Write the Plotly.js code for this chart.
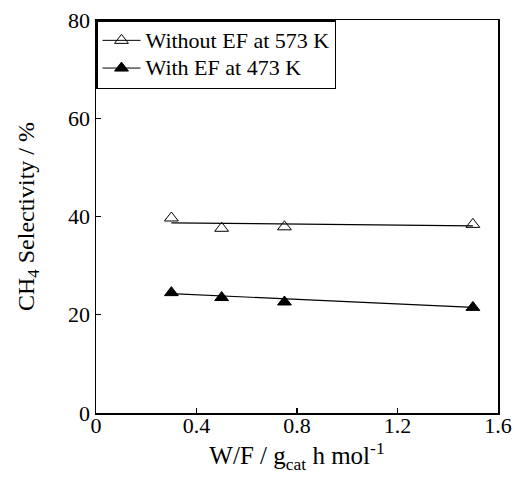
<!DOCTYPE html>
<html>
<head>
<meta charset="utf-8">
<script src="https://cdn.plot.ly/plotly-3.0.1.min.js"></script>
<style>html,body{margin:0;padding:0;background:#fff;}#chart{width:515px;height:484px;}</style>
</head>
<body>
<div id="chart"></div>
<script>
const wf = [0.3, 0.5, 0.75, 1.5];
const withoutEF = [39.7, 37.6, 37.9, 38.4];
const withEF = [24.5, 23.5, 22.6, 21.5];
const fitX = [0.3, 1.5];
const fitWithout = [38.7, 38.1];
const fitWith = [24.3, 21.5];
const seriesNames = ['Without EF at 573 K', 'With EF at 473 K'];
const xTicks = [0, 0.4, 0.8, 1.2, 1.6];
const xTickText = ['0', '0.4', '0.8', '1.2', '1.6'];
const yTicks = [0, 20, 40, 60, 80];

const FONT = 'Liberation Serif';
const openMarker = {symbol: 'triangle-up-open', size: 12, color: '#000', line: {width: 1, color: '#000'}};
const fillMarker = {symbol: 'triangle-up', size: 12, color: '#000', line: {width: 1, color: '#000'}};
const legendName = s => '<span style="font-size:22px">' + s + '</span>';

const traces = [
  {x: fitX, y: fitWithout, mode: 'lines', line: {color: '#000', width: 1.2}, showlegend: false, hoverinfo: 'skip'},
  {x: fitX, y: fitWith, mode: 'lines', line: {color: '#000', width: 1.2}, showlegend: false, hoverinfo: 'skip'},
  {x: wf, y: withoutEF, mode: 'markers', marker: openMarker, showlegend: false},
  {x: wf, y: withEF, mode: 'markers', marker: fillMarker, showlegend: false},
  {x: [null], y: [null], mode: 'lines+markers', name: legendName(seriesNames[0]), marker: openMarker, line: {color: '#000', width: 1}},
  {x: [null], y: [null], mode: 'lines+markers', name: legendName(seriesNames[1]), marker: fillMarker, line: {color: '#000', width: 1}}
];

const layout = {
  width: 515, height: 484,
  margin: {l: 96, r: 17, t: 20, b: 71},
  paper_bgcolor: '#fff', plot_bgcolor: '#fff',
  font: {family: FONT, color: '#000', size: 22},
  showlegend: true,
  legend: {x: 0, y: 1, xanchor: 'left', yanchor: 'top', bordercolor: '#000', borderwidth: 1.5,
           bgcolor: '#fff', font: {family: FONT, size: 19, color: '#000'}, tracegroupgap: 0, itemwidth: 38},
  xaxis: {
    range: [0, 1.6], tickvals: xTicks, ticktext: xTickText,
    ticks: 'inside', ticklen: 5, tickcolor: '#000', tickwidth: 1.2, showgrid: false, zeroline: false,
    showline: true, linecolor: '#000', linewidth: 1.5, mirror: true, ticklabelstandoff: -8,
    tickfont: {family: FONT, size: 22, color: '#000'},
    title: {text: 'W/F / g<sub>cat</sub> h mol<sup>-1</sup>', font: {family: FONT, size: 25, color: '#000'}, standoff: 8}
  },
  yaxis: {
    range: [0, 80], tickvals: yTicks,
    ticks: 'inside', ticklen: 5, tickcolor: '#000', tickwidth: 1.2, showgrid: false, zeroline: false,
    showline: true, linecolor: '#000', linewidth: 1.5, mirror: true,
    tickfont: {family: FONT, size: 22, color: '#000'},
    title: {text: 'CH<sub>4</sub> Selectivity / %', font: {family: FONT, size: 24, color: '#000'}, standoff: 26}
  }
};

Plotly.newPlot('chart', traces, layout, {displayModeBar: false, staticPlot: true});
</script>
</body>
</html>
